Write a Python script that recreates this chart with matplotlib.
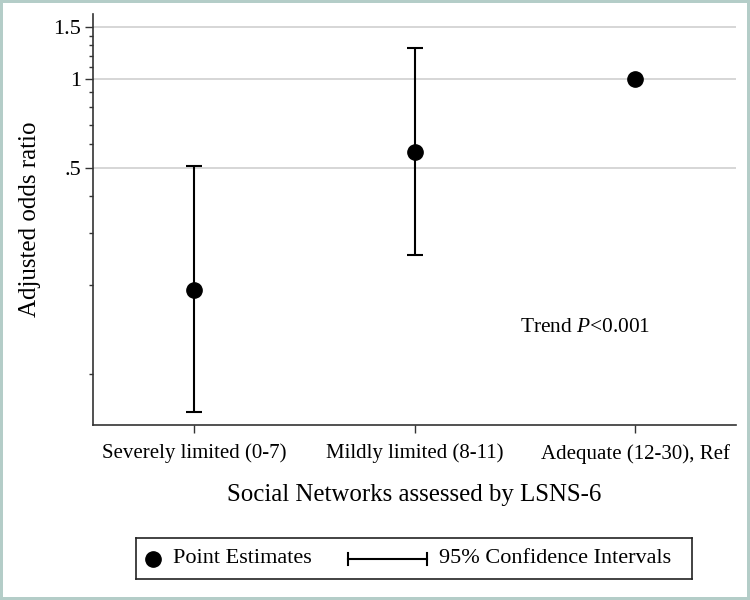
import matplotlib
matplotlib.use('Agg')
import matplotlib.pyplot as plt
import matplotlib.ticker as mticker
import numpy as np

plt.rcParams['font.family'] = 'Liberation Serif'
plt.rcParams['mathtext.fontset'] = 'custom'
plt.rcParams['mathtext.rm'] = 'Liberation Serif'
plt.rcParams['mathtext.it'] = 'Liberation Serif:italic'

# data
categories = ['Severely limited (0-7)', 'Mildly limited (8-11)', 'Adequate (12-30), Ref']
odds = [0.193, 0.567, 1.0]
ci_low = [0.074, 0.252, np.nan]
ci_high = [0.508, 1.271, np.nan]

major_ticks = [0.5, 1, 1.5]
major_labels = ['.5', '1', '1.5']
minor_ticks = [0.1, 0.2, 0.3, 0.4, 0.6, 0.7, 0.8, 0.9, 1.1, 1.2, 1.3, 1.4]

fig = plt.figure(figsize=(7.5, 6), dpi=100)
fig.patch.set_edgecolor('#b4cdc8')
fig.patch.set_linewidth(4)

ax = fig.add_axes([93/750, 1-425/600, 643/750, 411/600])
x = np.arange(1, len(categories)+1)

has_ci = ~np.isnan(ci_low)
lo = np.array(odds) - np.array(ci_low)
hi = np.array(ci_high) - np.array(odds)
ax.errorbar(x[has_ci], np.array(odds)[has_ci], yerr=[lo[has_ci], hi[has_ci]],
            fmt='none', ecolor='black', elinewidth=1.5, capsize=5.8, capthick=1.5, zorder=3)
ax.plot(x, odds, 'o', color='black', markersize=11, zorder=4)

ax.set_yscale('log')
ax.set_ylim(0.067, 1.66)
ax.set_xlim(0.543, 3.457)
ax.yaxis.set_major_locator(mticker.FixedLocator(major_ticks))
ax.yaxis.set_major_formatter(mticker.FixedFormatter(major_labels))
ax.yaxis.set_minor_locator(mticker.FixedLocator(minor_ticks))
ax.yaxis.set_minor_formatter(mticker.NullFormatter())
ax.set_xticks(x)
ax.set_xticklabels(categories)

ax.grid(axis='y', which='major', color='#d0d0d0', linewidth=1.2)
ax.set_axisbelow(True)
for s in ['top', 'right']:
    ax.spines[s].set_visible(False)
for s in ['left', 'bottom']:
    ax.spines[s].set_color('#333333')
    ax.spines[s].set_linewidth(1.2)

ax.tick_params(axis='y', which='major', length=5.5, width=1, labelsize=16, pad=3, color='#333333')
ax.tick_params(axis='y', which='minor', length=3.1, width=1, color='#333333')
ax.tick_params(axis='x', which='major', length=5.5, width=1, labelsize=15, pad=8, color='#333333')

ax.set_xlabel('Social Networks assessed by LSNS-6', fontsize=17.9, labelpad=15)
ax.set_ylabel('Adjusted odds ratio', fontsize=18, labelpad=9)

ax.text(2.48, 0.144, 'Trend $P$<0.001', fontsize=15.4, va='center', ha='left')

# legend drawn as a small box below the plot
lax = fig.add_axes([136/750, 1-579/600, 556/750, 41/600])
lax.set_xlim(0, 556)
lax.set_ylim(0, 41)
lax.set_xticks([])
lax.set_yticks([])
for s in lax.spines.values():
    s.set_color('#222222')
    s.set_linewidth(1.2)
lax.plot([17], [20.5], 'o', color='black', markersize=11)
lax.text(37, 20.5, 'Point Estimates', fontsize=16, va='center', ha='left')
lax.plot([212, 291], [20.5, 20.5], color='black', lw=1.5)
lax.plot([212, 212], [14.5, 26.5], color='black', lw=1.5)
lax.plot([291, 291], [14.5, 26.5], color='black', lw=1.5)
lax.text(303, 20.5, '95% Confidence Intervals', fontsize=16, va='center', ha='left')

fig.savefig('out.png', dpi=100)
